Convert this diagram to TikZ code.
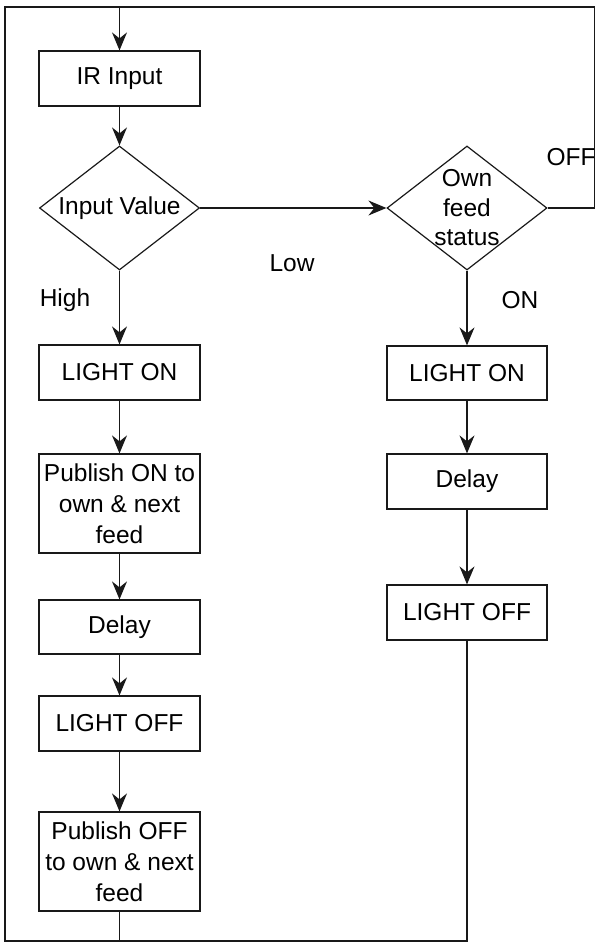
\documentclass[tikz,border=0pt]{standalone}
\usepackage{fontspec}
\setmainfont{Liberation Sans}
\usetikzlibrary{shapes.geometric,arrows.meta}
\begin{document}
\begin{tikzpicture}[x=1pt,y=-1pt,
  every node/.style={font=\fontsize{24.5}{31}\selectfont},
  line/.style={draw=black!90,line width=1.2pt},
  arr/.style={line,-{Stealth[length=18pt,width=15pt,inset=6pt]}},
  box/.style={draw=black!90,line width=1.2pt,rectangle,inner sep=0pt,align=center,minimum width=161pt},
  dia/.style={draw=black!90,line width=1.2pt,diamond,inner sep=0pt,minimum width=160pt,minimum height=124pt},
  lbl/.style={inner sep=0pt}
]
\useasboundingbox (0,0) rectangle (595,942);
% left column
\node[box,minimum height=55pt] (ir) at (119.5,78.5) {IR Input};
\node[dia,label={[lbl]center:Input Value}] (iv) at (119.5,208) {};
\node[box,minimum height=55pt] (lon) at (119.5,372.5) {LIGHT ON};
\node[box,minimum height=99pt] (pon) at (119.5,503.5) {Publish ON to\\own \& next\\feed};
\node[box,minimum height=54pt] (dl) at (119.5,627) {Delay};
\node[box,minimum height=55pt] (loff) at (119.5,723.5) {LIGHT OFF};
\node[box,minimum height=99pt] (poff) at (119.5,861.5) {Publish OFF\\to own \& next\\feed};
% right column
\node[dia,label={[lbl,align=center,font=\fontsize{24.5}{29.5}\selectfont]center:Own\\feed\\status}] (ofs) at (467,208) {};
\node[box,minimum width=160pt,minimum height=54pt] (ron) at (467,373) {LIGHT ON};
\node[box,minimum width=160pt,minimum height=55pt] (rdl) at (467,481.5) {Delay};
\node[box,minimum width=160pt,minimum height=55pt] (roff) at (467,612.5) {LIGHT OFF};
% labels
\node[lbl] (low) at (292,263) {Low};
\node[lbl] (high) at (65,300) {High};
\node[lbl] (on) at (520,300) {ON};
\node[lbl] (off) at (571,157) {OFF};
% frame coordinates
\coordinate (bl) at (5,941);
\coordinate (tl) at (5,7);
\coordinate (tm) at (119.5,7);
\coordinate (tr) at (594.4,7);
% main flow
\draw[arr] (tm) -- (ir);
\draw[arr] (ir) -- (iv);
\draw[arr] (iv) -- (lon);
\draw[arr] (lon) -- (pon);
\draw[arr] (pon) -- (dl);
\draw[arr] (dl) -- (loff);
\draw[arr] (loff) -- (poff);
\draw[arr] (iv.east) -- (ofs.west);
\draw[arr] (ofs) -- (ron);
\draw[arr] (ron) -- (rdl);
\draw[arr] (rdl) -- (roff);
% loops
\draw[line] (poff.south) -- (poff.south |- bl) -- (bl) -- (tl) -- (tm);
\draw[line] (roff.south) -- (roff.south |- bl) -- (poff.south |- bl);
\draw[line] (ofs.east) -- (tr |- ofs.east) -- (tr) -- (tm);
\end{tikzpicture}
\end{document}
